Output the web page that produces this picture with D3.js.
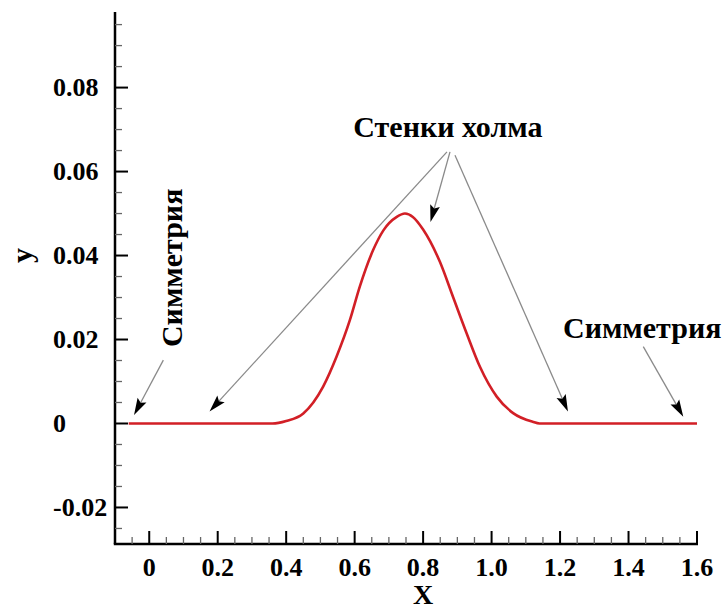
<!DOCTYPE html>
<html><head><meta charset="utf-8">
<script src="https://cdn.jsdelivr.net/npm/d3@7"></script>
<style>body{margin:0;background:#fff}svg{display:block}text{font-family:"Liberation Serif","Times New Roman",serif;font-weight:bold;fill:#000}</style>
</head><body><svg id="c" width="728" height="609"></svg>
<script>
// Data
const xs = [-0.06, 0.2, 0.36, 0.40, 0.45, 0.508, 0.547, 0.586, 0.615, 0.654, 0.684, 0.723, 0.747, 0.77, 0.80, 0.849, 0.888, 0.927, 0.966, 1.015, 1.064, 1.12, 1.14, 1.4, 1.6];
const ys = [0, 0, 0, 0.0006, 0.0024, 0.0088, 0.0159, 0.0246, 0.0326, 0.0413, 0.046, 0.0492, 0.050, 0.0492, 0.0462, 0.0385, 0.0300, 0.0215, 0.0135, 0.0064, 0.0024, 0.0004, 0, 0, 0];
const xTicks = [0, 0.2, 0.4, 0.6, 0.8, 1.0, 1.2, 1.4, 1.6];
const xTickLabels = ["0", "0.2", "0.4", "0.6", "0.8", "1.0", "1.2", "1.4", "1.6"];
const yTicks = [-0.02, 0, 0.02, 0.04, 0.06, 0.08];
const yTickLabels = ["-0.02", "0", "0.02", "0.04", "0.06", "0.08"];
const xMinor = [-0.05, 0.05, 0.1, 0.15, 0.25, 0.3, 0.35, 0.45, 0.5, 0.55, 0.65, 0.7, 0.75, 0.85, 0.9, 0.95, 1.05, 1.1, 1.15, 1.25, 1.3, 1.35, 1.45, 1.5, 1.55];
const yMinor = [-0.025, -0.015, -0.01, -0.005, 0.005, 0.01, 0.015, 0.025, 0.03, 0.035, 0.045, 0.05, 0.055, 0.065, 0.07, 0.075, 0.085, 0.09, 0.095];
// annotation arrows (data units): [fromX, fromY, toX, toY]
const arrows = [
  [0.8697, 0.0647, 0.1761, 0.00286],
  [0.8785, 0.0647, 0.8215, 0.0480],
  [0.8931, 0.0639, 1.2231, 0.00286],
  [1.4431, 0.0183, 1.5599, 0.0016],
  [0.0412, 0.0151, -0.0444, 0.0020]
];
const labels = [
  {text: "Стенки холма", x: 0.8724, y: 0.0682, anchor: "middle", rot: 0},
  {text: "Симметрия", x: 1.2085, y: 0.02036, anchor: "start", rot: 0},
  {text: "Симметрия", x: 0.0958, y: 0.0182, anchor: "start", rot: -90}
];

const svg = d3.select("#c");
const x = d3.scaleLinear().domain([-0.1, 1.6]).range([115, 697]);
const y = d3.scaleLinear().domain([-0.0287, 0.098]).range([544, 12]);

// axes
const g = svg.append("g");
g.append("line").attr("x1", x(-0.1)).attr("x2", x(-0.1)).attr("y1", y(0.098)).attr("y2", y(-0.0287)).attr("stroke", "#000").attr("stroke-width", 2.5);
g.append("line").attr("x1", x(-0.1)-1.2).attr("x2", x(1.6)+1).attr("y1", y(-0.0287)).attr("y2", y(-0.0287)).attr("stroke", "#000").attr("stroke-width", 2.5);

g.selectAll(".ymaj").data(yTicks).join("line").attr("x1", x(-0.1)).attr("x2", x(-0.1)+13).attr("y1", d => y(d)).attr("y2", d => y(d)).attr("stroke", "#000").attr("stroke-width", 2);
g.selectAll(".ymin").data(yMinor).join("line").attr("x1", x(-0.1)).attr("x2", x(-0.1)+7).attr("y1", d => y(d)).attr("y2", d => y(d)).attr("stroke", "#666").attr("stroke-width", 1.3);
g.selectAll(".xmaj").data(xTicks).join("line").attr("x1", d => x(d)).attr("x2", d => x(d)).attr("y1", y(-0.0287)).attr("y2", y(-0.0287)-13).attr("stroke", "#000").attr("stroke-width", 2);
g.selectAll(".xmin").data(xMinor).join("line").attr("x1", d => x(d)).attr("x2", d => x(d)).attr("y1", y(-0.0287)).attr("y2", y(-0.0287)-7).attr("stroke", "#666").attr("stroke-width", 1.3);

g.selectAll(".xl").data(xTicks).join("text").attr("x", d => x(d)).attr("y", 576).attr("text-anchor", "middle").attr("font-size", 26).text((d, i) => xTickLabels[i]);
g.selectAll(".yl").data(yTicks).join("text").attr("x", 53).attr("y", d => y(d)).attr("dy", "0.34em").attr("text-anchor", "start").attr("font-size", 26).text((d, i) => yTickLabels[i]);

svg.append("text").attr("x", x(0.8)).attr("y", 604).attr("text-anchor", "middle").attr("font-size", 28).text("X");
svg.append("text").attr("transform", `translate(32,${y(0.04)}) rotate(-90)`).attr("text-anchor", "middle").attr("font-size", 30).text("y");

// curve
const pts = xs.map((d, i) => [d, ys[i]]);
svg.append("path").datum(pts).attr("fill", "none").attr("stroke", "#d21f26").attr("stroke-width", 2.6)
  .attr("d", d3.line().x(d => x(d[0])).y(d => y(d[1])).curve(d3.curveMonotoneX));

// arrows
arrows.forEach(a => {
  const x1 = x(a[0]), y1 = y(a[1]), x2 = x(a[2]), y2 = y(a[3]);
  const dx = x2 - x1, dy = y2 - y1, L = Math.hypot(dx, dy), ux = dx / L, uy = dy / L;
  const hl = 17, hw = 5;
  const bx = x2 - ux * hl, by = y2 - uy * hl;
  svg.append("line").attr("x1", x1).attr("y1", y1).attr("x2", bx + ux * 3).attr("y2", by + uy * 3).attr("stroke", "#8a8a8a").attr("stroke-width", 1.3);
  svg.append("path").attr("d", `M${x2},${y2}L${bx - uy * hw},${by + ux * hw}L${bx + ux*3},${by + uy*3}L${bx + uy * hw},${by - ux * hw}Z`).attr("fill", "#000");
});

labels.forEach(l => {
  svg.append("text").attr("transform", `translate(${x(l.x)},${y(l.y)}) rotate(${l.rot})`).attr("text-anchor", l.anchor).attr("font-size", 30).text(l.text);
});
</script></body></html>
